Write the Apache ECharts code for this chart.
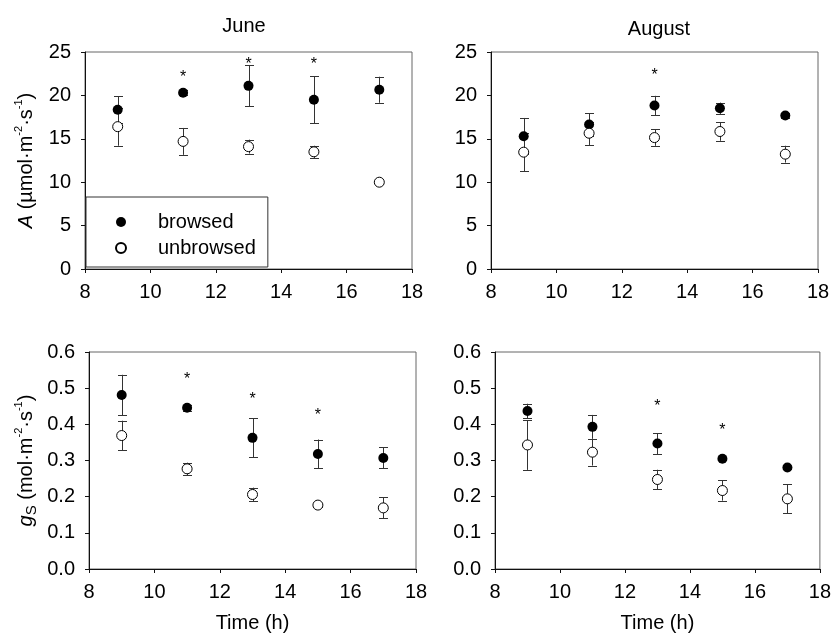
<!DOCTYPE html>
<html>
<head>
<meta charset="utf-8">
<script src="https://cdn.jsdelivr.net/npm/echarts@6/dist/echarts.min.js"></script>
<style>
  html, body { margin: 0; padding: 0; background: #fff; }
  #chart { width: 834px; height: 636px; }
</style>
</head>
<body>
<div id="chart"></div>
<script>
// sampling hours
const hours = [9, 11, 13, 15, 17];

// June, net photosynthesis A
const juneABrowsed = [18.35, 20.3, 21.1, 19.5, 20.65];
const juneABrowsedErr = [1.55, 0.3, 2.35, 2.7, 1.5];
const juneAUnbrowsed = [16.4, 14.7, 14.1, 13.5, 10.0];
const juneAUnbrowsedErr = [2.2, 1.55, 0.8, 0.7, 0.2];
const juneAStarX = [11, 13, 15];
const juneAStarY = [22.4, 23.95, 23.95];

// August, net photosynthesis A
const augABrowsed = [15.3, 16.64, 18.83, 18.52, 17.68];
const augABrowsedErr = [2.1, 1.3, 1.12, 0.65, 0.3];
const augAUnbrowsed = [13.46, 15.64, 15.14, 15.84, 13.23];
const augAUnbrowsedErr = [2.2, 1.35, 0.95, 1.07, 0.97];
const augAStarX = [13];
const augAStarY = [22.6];

// June, stomatal conductance gs
const juneGBrowsed = [0.481, 0.446, 0.3626, 0.318, 0.307];
const juneGBrowsedErr = [0.056, 0.008, 0.054, 0.04, 0.029];
const juneGUnbrowsed = [0.369, 0.277, 0.206, 0.1767, 0.169];
const juneGUnbrowsedErr = [0.041, 0.017, 0.019, 0.004, 0.029];
const juneGStarX = [11, 13, 15];
const juneGStarY = [0.533, 0.476, 0.433];

// August, stomatal conductance gs
const augGBrowsed = [0.437, 0.393, 0.347, 0.3046, 0.2807];
const augGBrowsedErr = [0.02, 0.033, 0.029, 0.004, 0.004];
const augGUnbrowsed = [0.343, 0.323, 0.2475, 0.217, 0.194];
const augGUnbrowsedErr = [0.069, 0.037, 0.027, 0.028, 0.04];
const augGStarX = [13, 15];
const augGStarY = [0.457, 0.391];

const FONT = 'Liberation Sans, Arial, sans-serif';
const LABEL_SIZE = 20;

const chart = echarts.init(document.getElementById('chart'), null, { renderer: 'canvas' });

// error bar: vertical line + two caps
function renderErr(params, api) {
  const x = api.value(0);
  const lo = api.coord([x, api.value(1)]);
  const hi = api.coord([x, api.value(2)]);
  const cx = Math.round(lo[0]) + 0.5;
  const w = 4.5;
  const st = { stroke: '#333', lineWidth: 1 };
  return {
    type: 'group',
    children: [
      { type: 'line', shape: { x1: cx, y1: lo[1], x2: cx, y2: hi[1] }, style: st },
      { type: 'line', shape: { x1: cx - w, y1: Math.round(hi[1]) + 0.5, x2: cx + w, y2: Math.round(hi[1]) + 0.5 }, style: st },
      { type: 'line', shape: { x1: cx - w, y1: Math.round(lo[1]) + 0.5, x2: cx + w, y2: Math.round(lo[1]) + 0.5 }, style: st },
    ],
  };
}

function renderStar(params, api) {
  const p = api.coord([api.value(0), api.value(1)]);
  return {
    type: 'text',
    style: {
      text: '*', x: p[0], y: p[1] + 3,
      align: 'center', verticalAlign: 'middle',
      font: '16px ' + FONT, fill: '#000',
    },
  };
}

const grids = [
  { left: 85, top: 52, width: 327, height: 217 },
  { left: 491, top: 52, width: 327, height: 217 },
  { left: 89, top: 352, width: 327, height: 217 },
  { left: 495, top: 352, width: 327, height: 217 },
];

const panels = [
  { b: juneABrowsed, be: juneABrowsedErr, u: juneAUnbrowsed, ue: juneAUnbrowsedErr, sx: juneAStarX, sy: juneAStarY },
  { b: augABrowsed, be: augABrowsedErr, u: augAUnbrowsed, ue: augAUnbrowsedErr, sx: augAStarX, sy: augAStarY },
  { b: juneGBrowsed, be: juneGBrowsedErr, u: juneGUnbrowsed, ue: juneGUnbrowsedErr, sx: juneGStarX, sy: juneGStarY },
  { b: augGBrowsed, be: augGBrowsedErr, u: augGUnbrowsed, ue: augGUnbrowsedErr, sx: augGStarX, sy: augGStarY },
];

const axisLine = { show: true, lineStyle: { color: '#111', width: 1 } };
const axisTick = { show: true, length: 4, lineStyle: { color: '#111' } };
const axisLabel = { color: '#000', fontSize: LABEL_SIZE, fontFamily: FONT, margin: 14 };

const xAxes = grids.map((g, i) => ({
  type: 'value',
  gridIndex: i,
  min: 8, max: 18, interval: 2,
  axisLine, axisTick,
  axisLabel: { ...axisLabel, margin: 13 },
  splitLine: { show: false },
  name: i >= 2 ? 'Time (h)' : '',
  nameLocation: 'middle',
  nameGap: 44,
  nameTextStyle: { color: '#000', fontSize: 20, fontFamily: FONT },
}));

const supRich = {
  i: { fontStyle: 'italic', fontSize: 20, fontFamily: FONT, color: '#000' },
  sup: { fontSize: 11, fontFamily: FONT, color: '#000', verticalAlign: 'top' },
  sub: { fontSize: 15, fontFamily: FONT, color: '#000', verticalAlign: 'bottom' },
};

const yAxes = grids.map((g, i) => {
  const isA = i < 2;
  let name = '';
  if (i === 0) name = '{i|A} (µmol·m{sup|-2}·s{sup|-1})';
  if (i === 2) name = '{i|g}{sub|S} (mol·m{sup|-2}·s{sup|-1})';
  return {
    type: 'value',
    gridIndex: i,
    min: 0,
    max: isA ? 25 : 0.6,
    interval: isA ? 5 : 0.1,
    axisLine, axisTick,
    axisLabel: {
      ...axisLabel,
      formatter: isA ? (v) => String(v) : (v) => v.toFixed(1),
    },
    splitLine: { show: false },
    name,
    nameLocation: 'middle',
    nameRotate: 90,
    nameGap: i === 0 ? 46 : 50,
    nameTextStyle: { color: '#000', fontSize: 20, fontFamily: FONT, lineHeight: 26, rich: supRich },
  };
});

const series = [];
panels.forEach((p, i) => {
  series.push({
    name: 'browsed err', type: 'custom', xAxisIndex: i, yAxisIndex: i,
    renderItem: renderErr, encode: { x: 0, y: [1, 2] }, z: 1,
    data: hours.map((h, k) => [h, p.b[k] - p.be[k], p.b[k] + p.be[k]]),
  });
  series.push({
    name: 'unbrowsed err', type: 'custom', xAxisIndex: i, yAxisIndex: i,
    renderItem: renderErr, encode: { x: 0, y: [1, 2] }, z: 1,
    data: hours.map((h, k) => [h, p.u[k] - p.ue[k], p.u[k] + p.ue[k]]),
  });
  series.push({
    name: 'browsed', type: 'scatter', xAxisIndex: i, yAxisIndex: i,
    symbol: 'circle', symbolSize: 10, z: 3,
    itemStyle: { color: '#000', opacity: 1 },
    data: hours.map((h, k) => [h, p.b[k]]),
  });
  series.push({
    name: 'unbrowsed', type: 'scatter', xAxisIndex: i, yAxisIndex: i,
    symbol: 'circle', symbolSize: 10, z: 4,
    itemStyle: { color: '#fff', borderColor: '#000', borderWidth: 1, opacity: 1 },
    data: hours.map((h, k) => [h, p.u[k]]),
  });
  series.push({
    name: 'sig', type: 'custom', xAxisIndex: i, yAxisIndex: i,
    renderItem: renderStar, encode: { x: 0, y: 1 }, z: 5,
    data: p.sx.map((x, k) => [x, p.sy[k]]),
  });
});

const option = {
  animation: false,
  backgroundColor: '#fff',
  title: [
    { text: 'June', left: 239, top: 11, textAlign: 'center',
      textStyle: { fontSize: 20, fontWeight: 'normal', fontFamily: FONT, color: '#000' } },
    { text: 'August', left: 654, top: 14, textAlign: 'center',
      textStyle: { fontSize: 20, fontWeight: 'normal', fontFamily: FONT, color: '#000' } },
  ],
  grid: grids.map((g) => ({ ...g, show: true, borderColor: '#666', borderWidth: 1, backgroundColor: 'transparent' })),
  xAxis: xAxes,
  yAxis: yAxes,
  legend: {
    data: ['browsed', 'unbrowsed'],
    orient: 'vertical',
    left: 86, top: 197,
    padding: [15, 12, 9, 29],
    itemWidth: 10, itemHeight: 10, itemGap: 6,
    borderColor: '#333', borderWidth: 1, borderRadius: 0,
    backgroundColor: '#fff',
    selectedMode: false,
    textStyle: { fontSize: 20, fontFamily: FONT, color: '#000', lineHeight: 14, padding: [0, 0, 0, 27] },
    z: 10,
  },
  series,
};

chart.setOption(option);
</script>
</body>
</html>
